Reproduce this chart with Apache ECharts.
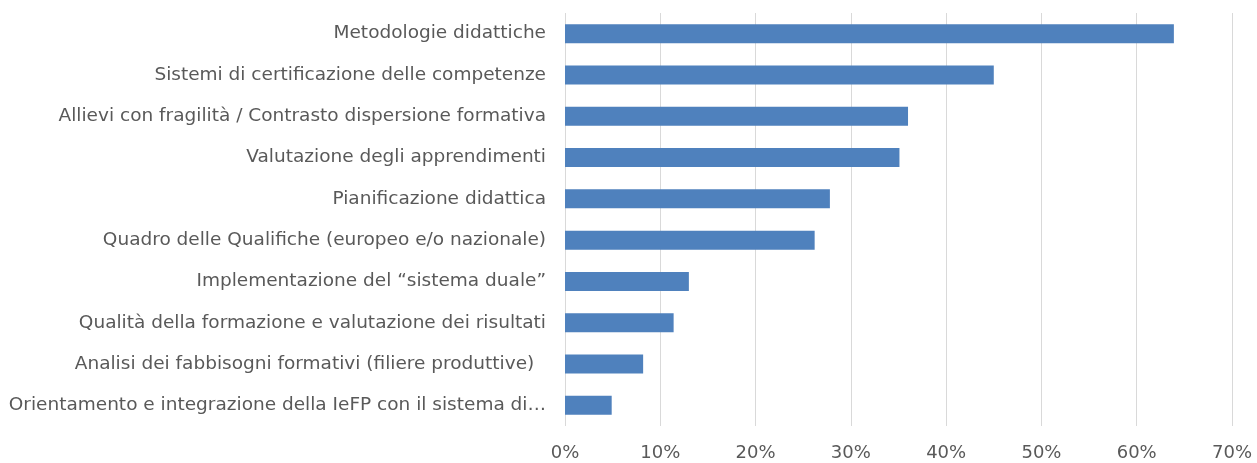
<!DOCTYPE html>
<html>
<head>
<meta charset="utf-8">
<script src="https://cdn.jsdelivr.net/npm/echarts@6/dist/echarts.min.js"></script>
<style>html,body{margin:0;padding:0;background:#fff}#c{width:1257px;height:463px}</style>
</head>
<body>
<div id="c"></div>
<script>
const categories = [
  "Metodologie didattiche",
  "Sistemi di certificazione delle competenze",
  "Allievi con fragilità / Contrasto dispersione formativa",
  "Valutazione degli apprendimenti",
  "Pianificazione didattica",
  "Quadro delle Qualifiche (europeo e/o nazionale)",
  "Implementazione del “sistema duale”",
  "Qualità della formazione e valutazione dei risultati",
  "Analisi dei fabbisogni formativi (filiere produttive)  ",
  "Orientamento e integrazione della IeFP con il sistema di…"
];
const values = [63.9, 45.0, 36.0, 35.1, 27.8, 26.2, 13.0, 11.4, 8.2, 4.9];
const xTicks = [0, 10, 20, 30, 40, 50, 60, 70];

const chart = echarts.init(document.getElementById('c'));
chart.setOption({
  animation: false,
  grid: {left: 565, right: 25, top: 13, bottom: 37, containLabel: false},
  xAxis: {
    type: 'value', min: xTicks[0], max: xTicks[xTicks.length - 1], interval: 10,
    axisLine: {show: false}, axisTick: {show: false},
    splitLine: {lineStyle: {color: '#d9d9d9', width: 1}},
    axisLabel: {formatter: v => v + '%', color: '#595959', fontFamily: 'DejaVu Sans', fontSize: 18, margin: 18}
  },
  yAxis: {
    type: 'category', data: categories, inverse: true,
    axisLine: {show: false}, axisTick: {show: false},
    axisLabel: {color: '#595959', fontFamily: 'DejaVu Sans', fontSize: 18.5, margin: 19}
  },
  series: [{
    type: 'bar', data: values, barWidth: 19,
    itemStyle: {color: '#4f81bd'}
  }]
});
</script>
</body>
</html>
